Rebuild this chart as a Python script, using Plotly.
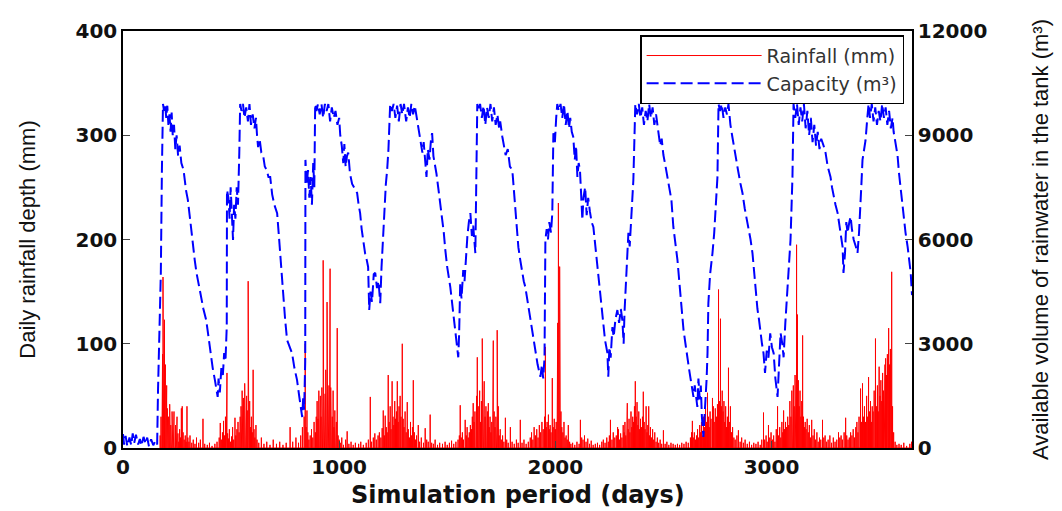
import plotly.graph_objects as go

# ---- daily rainfall (mm): day of event, depth ----
rain_day = [
    172, 176, 180, 183, 185, 187, 188, 190, 192, 194, 196, 199, 202, 205, 208, 211, 214, 216, 218, 221,
    224, 227, 230, 233, 236, 240, 243, 247, 250, 254, 258, 262, 266, 270, 274, 278, 283, 288, 292, 296,
    300, 305, 310, 318, 325, 333, 340, 350, 358, 370, 378, 390, 400, 412, 425, 435,
    445, 450, 455, 460, 465, 470, 474, 478, 481, 484, 488, 492, 497, 502, 507, 512, 518, 522, 527, 532,
    537, 542, 546, 549, 551, 554, 557, 560, 563, 566, 569, 572, 575, 579, 582, 586, 590, 594, 598, 602,
    606, 610, 615, 620, 628, 640, 652, 665, 680, 695, 710, 725, 740, 755, 773, 785, 800, 812, 822, 830,
    838, 843, 847, 851, 855, 860, 866, 872, 878, 884, 890, 894, 898, 902, 906, 910, 913, 916, 920, 923,
    926, 929, 932, 935, 938, 941, 944, 947, 950, 953, 956, 958, 961, 964, 968, 972, 976, 980, 984, 987,
    991, 995, 1000, 1005, 1012, 1020, 1030, 1037, 1045, 1055, 1065, 1075, 1090, 1100, 1112, 1125, 1135, 1144, 1150, 1158,
    1165, 1172, 1180, 1186, 1193, 1199, 1204, 1209, 1213, 1218, 1222, 1227, 1231, 1236, 1240, 1245, 1249, 1253, 1257, 1261,
    1265, 1269, 1273, 1277, 1282, 1286, 1292, 1296, 1300, 1305, 1310, 1315, 1320, 1325, 1330, 1335, 1339, 1343, 1348, 1353,
    1358, 1366, 1372, 1380, 1390, 1398, 1405, 1412, 1421, 1428, 1436, 1444, 1455, 1465, 1478, 1490, 1500, 1510, 1520, 1530,
    1540, 1550, 1556, 1560, 1565, 1570, 1575, 1583, 1588, 1592, 1597, 1602, 1607, 1612, 1616, 1620, 1624, 1628, 1633, 1636,
    1639, 1643, 1647, 1650, 1654, 1658, 1662, 1665, 1668, 1671, 1675, 1679, 1683, 1686, 1690, 1694, 1698, 1702, 1706, 1710,
    1713, 1717, 1721, 1725, 1728, 1731, 1734, 1736, 1740, 1745, 1750, 1756, 1762, 1769, 1775, 1782, 1792, 1800, 1810, 1820,
    1828, 1838, 1846, 1855, 1865, 1875, 1884, 1890, 1896, 1902, 1908, 1914, 1920, 1926, 1932, 1938, 1944, 1950, 1954, 1958,
    1962, 1968, 1972, 1976, 1980, 1986, 1990, 1995, 2000, 2004, 2008, 2011, 2014, 2017, 2020, 2023, 2026, 2030, 2035, 2040,
    2045, 2050, 2055, 2060, 2066, 2072, 2080, 2090, 2100, 2110, 2116, 2122, 2128, 2135, 2142, 2150, 2158, 2166, 2175, 2185,
    2195, 2205, 2215, 2222, 2230, 2238, 2245, 2250, 2255, 2262, 2268, 2275, 2282, 2288, 2292, 2297, 2302, 2308, 2314, 2318,
    2322, 2326, 2330, 2333, 2337, 2341, 2345, 2350, 2354, 2358, 2362, 2366, 2370, 2374, 2378, 2382, 2386, 2390, 2394, 2398,
    2403, 2407, 2411, 2415, 2420, 2424, 2428, 2432, 2436, 2440, 2445, 2450, 2455, 2460, 2466, 2472, 2478, 2485, 2492, 2500,
    2508, 2516, 2525, 2535, 2545, 2555, 2565, 2575, 2585, 2595, 2605, 2615, 2625, 2630, 2634, 2638, 2643, 2648, 2653, 2658,
    2663, 2668, 2672, 2676, 2680, 2685, 2690, 2695, 2700, 2704, 2708, 2712, 2716, 2720, 2727, 2731, 2735, 2740, 2745, 2750,
    2755, 2759, 2764, 2768, 2772, 2776, 2780, 2784, 2788, 2792, 2796, 2801, 2805, 2810, 2815, 2820, 2826, 2832, 2840, 2847,
    2855, 2862, 2870, 2878, 2888, 2898, 2908, 2918, 2928, 2938, 2948, 2955, 2963, 2968, 2975, 2980, 2986, 2992, 2998, 3004,
    3010, 3016, 3022, 3028, 3033, 3038, 3043, 3048, 3052, 3056, 3060, 3065, 3070, 3075, 3080, 3085, 3090, 3094, 3097, 3101,
    3105, 3109, 3112, 3116, 3120, 3124, 3128, 3132, 3136, 3140, 3144, 3148, 3152, 3156, 3160, 3165, 3170, 3175, 3180, 3186,
    3192, 3198, 3204, 3210, 3216, 3222, 3228, 3236, 3242, 3248, 3255, 3262, 3270, 3278, 3286, 3294, 3302, 3310, 3316, 3322,
    3328, 3336, 3343, 3348, 3354, 3360, 3366, 3372, 3378, 3384, 3390, 3395, 3400, 3405, 3412, 3416, 3421, 3425, 3430, 3435,
    3440, 3445, 3449, 3453, 3458, 3462, 3466, 3470, 3475, 3481, 3485, 3490, 3494, 3498, 3502, 3506, 3510, 3514, 3518, 3522,
    3525, 3528, 3532, 3536, 3539, 3542, 3546, 3550, 3553, 3556, 3560, 3565, 3572, 3580, 3590, 3600, 3612, 3625, 3640, 3648,
]
rain_mm = [
    12, 30, 55, 90, 164, 120, 140, 95, 123, 70, 80, 45, 60, 38, 25, 30, 18, 42, 40, 22,
    15, 35, 12, 20, 35, 10, 22, 8, 30, 14, 6, 18, 10, 38, 40, 15, 8, 12, 6, 40,
    10, 6, 12, 5, 8, 4, 10, 5, 8, 28, 4, 3, 5, 2, 4, 6,
    10, 24, 8, 15, 26, 12, 30, 20, 72, 14, 9, 18, 6, 11, 20, 8, 29, 12, 18, 25,
    15, 30, 40, 22, 55, 35, 48, 30, 62, 42, 28, 50, 36, 160, 25, 45, 20, 30, 15, 75,
    18, 10, 22, 8, 5, 10, 4, 6, 3, 8, 4, 6, 3, 5, 20, 6, 10, 5, 12, 20,
    30, 100, 20, 36, 15, 8, 12, 18, 10, 25, 15, 30, 45, 28, 55, 38, 50, 30, 58, 45,
    180, 60, 40, 52, 75, 48, 140, 56, 40, 60, 45, 172, 58, 42, 30, 55, 20, 36, 15, 25,
    115, 12, 8, 5, 10, 3, 8, 16, 4, 6, 3, 5, 4, 6, 3, 5, 8, 49, 6, 10,
    14, 8, 12, 15, 10, 19, 36, 12, 31, 20, 15, 70, 25, 40, 18, 64, 30, 22, 45, 28,
    35, 64, 25, 40, 50, 30, 100, 28, 20, 35, 15, 44, 18, 10, 25, 12, 20, 65, 15, 8,
    12, 22, 6, 10, 5, 19, 8, 6, 32, 5, 4, 8, 3, 5, 4, 6, 3, 5, 7, 4,
    6, 8, 12, 41, 10, 15, 8, 27, 12, 20, 10, 15, 22, 18, 30, 43, 25, 35, 20, 50,
    87, 40, 30, 55, 25, 45, 105, 35, 50, 64, 30, 40, 25, 35, 43, 20, 30, 15, 25, 45,
    103, 35, 20, 30, 15, 113, 22, 40, 12, 18, 8, 12, 6, 29, 8, 5, 20, 6, 4, 8,
    5, 27, 5, 8, 4, 6, 10, 15, 8, 20, 12, 18, 10, 22, 15, 25, 18, 30, 97, 20,
    25, 32, 18, 22, 15, 67, 20, 28, 18, 25, 40, 120, 235, 150, 174, 60, 35, 20, 15, 25,
    10, 12, 8, 22, 6, 4, 5, 3, 6, 4, 27, 10, 8, 12, 6, 9, 4, 7, 3, 4,
    5, 3, 6, 8, 5, 10, 6, 12, 27, 8, 15, 10, 12, 20, 18, 8, 14, 10, 22, 15,
    25, 12, 30, 43, 18, 28, 15, 35, 20, 30, 25, 40, 64, 30, 44, 22, 35, 18, 28, 20,
    30, 54, 25, 18, 40, 15, 22, 40, 12, 20, 10, 18, 8, 15, 6, 10, 5, 8, 4, 17,
    4, 6, 3, 5, 4, 3, 4, 3, 5, 4, 6, 5, 10, 15, 26, 10, 15, 8, 12, 18,
    10, 22, 15, 25, 12, 30, 20, 38, 25, 53, 30, 20, 35, 28, 48, 40, 25, 38, 30, 42,
    152, 45, 124, 40, 55, 35, 45, 25, 40, 20, 30, 77, 25, 40, 15, 20, 10, 8, 12, 17,
    6, 10, 5, 8, 4, 6, 3, 5, 4, 6, 3, 8, 34, 8, 12, 6, 22, 10, 15, 8,
    12, 6, 18, 40, 12, 20, 10, 25, 15, 36, 18, 25, 20, 30, 22, 45, 30, 55, 46, 60,
    40, 70, 50, 195, 128, 65, 40, 55, 30, 45, 108, 30, 20, 25, 18, 28, 15, 22, 10, 27,
    12, 18, 8, 15, 6, 10, 8, 27, 10, 12, 6, 8, 12, 5, 10, 6, 8, 15, 10, 12,
    8, 15, 29, 12, 8, 10, 15, 12, 18, 10, 20, 25, 15, 30, 57, 25, 62, 30, 40, 25,
    50, 30, 68, 35, 45, 25, 40, 35, 55, 105, 40, 60, 35, 78, 50, 65, 45, 72, 55, 65,
    80, 86, 70, 90, 75, 115, 80, 95, 60, 169, 40, 15, 6, 3, 4, 3, 5, 2, 4, 6,
]

# ---- available volume in the tank (m3) ----
cap_day = [
    0, 5, 12, 20, 30, 38, 45, 52, 60, 70, 78, 85, 95, 105, 112, 120, 130, 140, 150, 158,
    162, 166, 170, 175, 180, 185, 190, 195, 200, 205, 210, 215, 220, 225, 230, 236, 242, 248, 255, 262,
    270, 280, 292, 300, 312, 320, 332, 340, 350, 360, 372, 385, 395, 405, 415, 425, 432, 438, 442, 448,
    455, 462, 468, 474, 480, 481, 488, 493, 498, 503, 509, 514, 520, 526, 532, 538, 542, 548, 555, 562,
    570, 578, 585, 592, 600, 608, 615, 620, 625, 632, 640, 648, 656, 665, 673, 681, 690, 700, 713, 720,
    727, 734, 741, 750, 759, 770, 782, 793, 805, 815, 822, 829, 834, 838, 843, 844, 850, 856, 862, 868,
    874, 880, 885, 889, 895, 902, 910, 918, 926, 934, 942, 950, 958, 966, 975, 983, 992, 1000, 1005, 1012,
    1019, 1024, 1030, 1036, 1042, 1050, 1060, 1070, 1083, 1090, 1097, 1104, 1111, 1120, 1128, 1134, 1139, 1145, 1152, 1160,
    1167, 1175, 1182, 1190, 1196, 1204, 1210, 1216, 1222, 1228, 1236, 1244, 1252, 1260, 1268, 1276, 1284, 1292, 1300, 1310,
    1318, 1326, 1334, 1342, 1350, 1361, 1368, 1375, 1385, 1391, 1398, 1404, 1410, 1418, 1425, 1430, 1436, 1442, 1450, 1458,
    1466, 1476, 1484, 1491, 1500, 1514, 1520, 1528, 1540, 1551, 1555, 1560, 1566, 1574, 1580, 1586, 1593, 1600, 1607, 1614,
    1620, 1630, 1639, 1645, 1652, 1660, 1668, 1676, 1684, 1692, 1700, 1708, 1716, 1724, 1732, 1740, 1745, 1755, 1762, 1770,
    1780, 1790, 1801, 1808, 1815, 1822, 1829, 1838, 1847, 1854, 1861, 1872, 1884, 1895, 1907, 1918, 1931, 1938, 1944, 1950,
    1954, 1960, 1966, 1972, 1980, 1986, 1991, 1998, 2004, 2009, 2016, 2024, 2032, 2040, 2048, 2056, 2063, 2069, 2076, 2083,
    2090, 2096, 2102, 2108, 2114, 2120, 2125, 2130, 2138, 2145, 2152, 2160, 2168, 2176, 2185, 2194, 2200, 2208, 2215, 2222,
    2230, 2241, 2245, 2250, 2256, 2264, 2270, 2278, 2287, 2295, 2303, 2310, 2316, 2320, 2324, 2330, 2338, 2344, 2350, 2356,
    2361, 2370, 2378, 2386, 2394, 2402, 2410, 2418, 2426, 2434, 2442, 2450, 2458, 2466, 2472, 2477, 2485, 2492, 2500, 2510,
    2519, 2528, 2537, 2546, 2556, 2565, 2572, 2579, 2586, 2593, 2602, 2611, 2618, 2625, 2632, 2639, 2645, 2652, 2657, 2662,
    2668, 2673, 2678, 2685, 2690, 2696, 2700, 2704, 2708, 2716, 2722, 2727, 2735, 2742, 2750, 2755, 2762, 2770, 2778, 2786,
    2794, 2801, 2810, 2819, 2828, 2835, 2845, 2856, 2866, 2876, 2885, 2894, 2903, 2912, 2919, 2926, 2935, 2942, 2949, 2956,
    2963, 2970, 2978, 2986, 2994, 3002, 3010, 3018, 3028, 3035, 3042, 3050, 3056, 3064, 3074, 3082, 3088, 3097, 3102, 3110,
    3118, 3126, 3134, 3142, 3150, 3158, 3166, 3174, 3182, 3190, 3198, 3206, 3214, 3222, 3230, 3241, 3250, 3260, 3273, 3280,
    3287, 3296, 3306, 3316, 3329, 3333, 3340, 3346, 3352, 3360, 3366, 3372, 3380, 3390, 3398, 3405, 3412, 3416, 3421, 3428,
    3435, 3442, 3449, 3456, 3464, 3472, 3480, 3488, 3496, 3504, 3512, 3520, 3528, 3536, 3544, 3552, 3560, 3565, 3572, 3583,
    3590, 3597, 3604, 3611, 3620, 3630, 3637, 3644, 3650,
]
cap_m3 = [
    400, 100, 350, 50, 300, 80, 420, 150, 380, 100, 260, 60, 320, 120, 300, 50, 250, 80, 200, 100,
    1670, 2730, 4460, 5040, 8000, 9900, 9700, 9900, 9500, 9850, 9300, 9600, 9100, 9650, 9000, 9300, 8600, 9000, 8400, 8700,
    8200, 8000, 7400, 7140, 6500, 5990, 5400, 5040, 4700, 4460, 4000, 3680, 3200, 2730, 2300, 1960, 1600, 1470, 2000, 1600,
    2300, 2100, 2730, 2500, 3500, 7425, 7200, 6600, 7500, 6900, 5990, 7000, 6600, 7500, 7000, 8500, 9900, 9700, 9900, 9500,
    9800, 9400, 9900, 9300, 9600, 9200, 9500, 9000, 8660, 8900, 8500, 8430, 8100, 8000, 7800, 7800, 7300, 7000, 6760, 6200,
    5610, 4900, 4170, 3700, 3110, 2900, 2730, 2300, 1960, 1500, 1100, 890, 1500, 1100, 2500, 8290, 7600, 8000, 7200, 7800,
    7000, 8200, 7500, 9900, 9700, 9900, 9600, 9900, 9500, 9900, 9700, 9900, 9400, 9800, 9500, 9700, 9300, 9500, 9000, 8700,
    8200, 8750, 8090, 8400, 8500, 7900, 7600, 7500, 7340, 7000, 6760, 6300, 5990, 5600, 5400, 5210, 3970, 4500, 4200, 5000,
    5040, 4600, 4800, 4170, 5200, 6190, 7000, 7600, 8000, 8600, 9900, 9700, 9900, 9500, 9850, 9400, 9900, 9600, 9900, 9400,
    9800, 9500, 9900, 9600, 9850, 9400, 9100, 8950, 8500, 8800, 8290, 7800, 8600, 8300, 8900, 9060, 8400, 8200, 7900, 7510,
    7100, 6760, 6200, 5700, 5200, 4640, 4300, 3880, 3200, 2610, 3300, 4750, 4300, 5120, 4800, 5600, 6080, 6500, 6760, 6100,
    6400, 5610, 9900, 9700, 9900, 9500, 9850, 9300, 9800, 9500, 9900, 9400, 9800, 9300, 9600, 9200, 9400, 8950, 8700, 8430,
    8600, 8100, 8000, 7400, 6940, 6300, 5780, 5400, 5040, 4800, 4640, 4200, 3680, 3200, 2730, 2400, 2050, 2400, 2000, 2600,
    5990, 6300, 6000, 6500, 6200, 6760, 9060, 8800, 9500, 9900, 9700, 9900, 9500, 9900, 9300, 9700, 9200, 9500, 9100, 8950,
    8300, 8700, 7800, 8200, 8000, 7300, 6560, 7200, 7510, 6700, 7200, 6800, 6500, 6360, 5800, 5210, 4800, 4260, 3900, 3480,
    3100, 2730, 2050, 2900, 2600, 3480, 3200, 3700, 3970, 3600, 4000, 3680, 3000, 3900, 4460, 5200, 6190, 5800, 6500, 7000,
    7710, 9900, 9600, 9900, 9500, 9800, 9300, 9700, 9400, 9900, 9500, 9800, 9300, 9600, 9300, 9000, 8700, 8900, 8430, 8100,
    7800, 7400, 7140, 6360, 5900, 5410, 4900, 4360, 3900, 3400, 3000, 2530, 2300, 2020, 1700, 1470, 1800, 1300, 1180, 2000,
    1400, 1800, 900, 320, 800, 1500, 2000, 2730, 4170, 5000, 5300, 5610, 6190, 7000, 7800, 9900, 9700, 9900, 9500, 9800,
    9600, 9900, 9300, 8950, 8600, 8290, 8000, 7620, 7330, 6900, 6600, 6360, 6000, 5610, 5100, 4640, 4000, 3700, 3310, 3000,
    2730, 2160, 2800, 2600, 3300, 2900, 2730, 2000, 1470, 2600, 3310, 3000, 2610, 3600, 4640, 5300, 5990, 7800, 9900, 9500,
    9900, 9300, 9800, 9400, 9900, 9200, 9700, 9000, 9500, 8800, 9300, 8700, 9100, 8600, 8900, 8700, 8500, 8100, 7800, 7500,
    7240, 7000, 6760, 6300, 5780, 5040, 5600, 6500, 6190, 6500, 6660, 6300, 6000, 5800, 5610, 6200, 6940, 7600, 8290, 8600,
    8850, 9400, 9900, 9500, 9900, 9400, 9800, 9300, 9700, 9400, 9900, 9500, 9800, 9300, 9700, 9200, 9500, 9100, 8800, 8430,
    7900, 7510, 7000, 6560, 6200, 5780, 5400, 5040, 4400,
]

# each rain event drawn as a spike from zero
spike_x, spike_y = [], []
for d, v in zip(rain_day, rain_mm):
    spike_x += [d, d, d]
    spike_y += [0, v, 0]

fig = go.Figure()
fig.add_trace(go.Scatter(x=spike_x, y=spike_y, mode="lines", name="Rainfall (mm)",
                         line=dict(color="#ff0000", width=1)))
fig.add_trace(go.Scatter(x=cap_day, y=cap_m3, mode="lines", name="Capacity (m³)", yaxis="y2",
                         line=dict(color="#0000ff", width=2, dash="12px,5px")))

tick_font = dict(family="DejaVu Sans", size=20, color="#111111", weight="bold")
title_font = dict(family="Liberation Sans", size=22, color="#111111")

# page body adds an 8px margin, so the figure is 8px smaller than the window
fig.update_layout(
    width=1054, height=503,
    margin=dict(l=115, r=150, t=23, b=63),
    paper_bgcolor="white", plot_bgcolor="white",
    showlegend=True,
    legend=dict(x=0.99, y=0.99, xanchor="right", yanchor="top",
                bgcolor="white", bordercolor="black", borderwidth=1.5,
                font=dict(family="DejaVu Sans", size=19, color="#333333"),
                itemwidth=115, tracegroupgap=0),
    xaxis=dict(range=[0, 3650], tickvals=[0, 1000, 2000, 3000], ticks="inside", ticklen=7,
               showline=True, mirror=True, linecolor="black", linewidth=1.5, automargin=False,
               showgrid=False, zeroline=False, tickfont=tick_font),
    yaxis=dict(range=[0, 400], dtick=100, ticks="inside", ticklen=7, automargin=False,
               showline=True, mirror=True, linecolor="black", linewidth=1.5,
               showgrid=False, zeroline=False, tickfont=tick_font,
               title=dict(text="Daily rainfall depth (mm)", standoff=34, font=title_font)),
    yaxis2=dict(range=[0, 12000], dtick=3000, tickformat="d", ticks="inside", ticklen=7,
                overlaying="y", side="right", automargin=False,
                showline=True, linecolor="black", linewidth=1.5,
                showgrid=False, zeroline=False, tickfont=tick_font,
                title=dict(text="Available volume of rainwater in the tank (m³)", standoff=46,
                           font=title_font)),
    annotations=[dict(text="Simulation period (days)", xref="paper", yref="paper",
                      x=0.5, y=-0.113, xanchor="center", yanchor="middle", showarrow=False,
                      font=dict(family="DejaVu Sans", size=24, color="#111111", weight="bold"))],
)

fig.write_html("out.html")
